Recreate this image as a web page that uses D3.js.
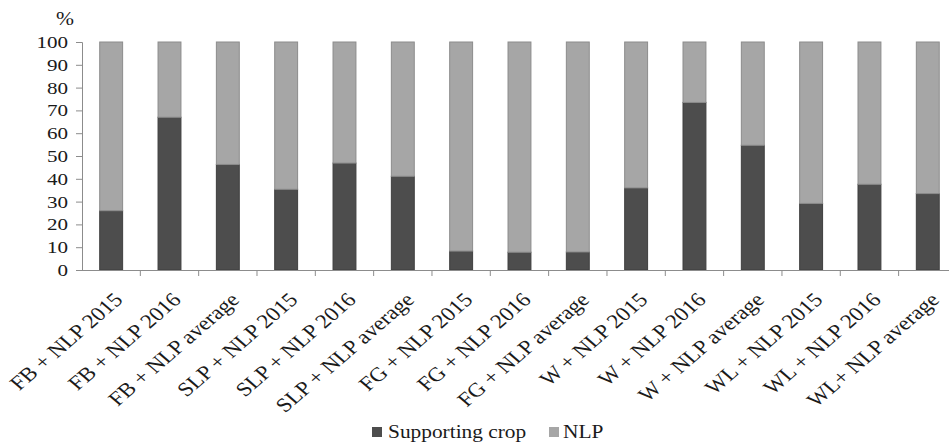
<!DOCTYPE html>
<html>
<head>
<meta charset="utf-8">
<script src="https://cdn.jsdelivr.net/npm/d3@7"></script>
<style>
  html, body { margin: 0; padding: 0; background: #fff; }
  svg { display: block; }
  svg text { font-family: "Liberation Serif", serif !important; fill: #1a1a1a; }
</style>
</head>
<body>
<svg id="chart" width="949" height="443"></svg>
<script>
const categories = [
  "FB + NLP 2015", "FB + NLP 2016", "FB + NLP average",
  "SLP + NLP 2015", "SLP + NLP 2016", "SLP + NLP average",
  "FG + NLP 2015", "FG + NLP 2016", "FG + NLP average",
  "W + NLP 2015", "W + NLP 2016", "W + NLP average",
  "WL + NLP 2015", "WL + NLP 2016", "WL+ NLP average"
];
const supportingCrop = [26, 67, 46.3, 35.4, 46.9, 41.1, 8.3, 7.8, 7.9, 36, 73.5, 54.7, 29.2, 37.6, 33.5];
const nlp = [74, 33, 53.7, 64.6, 53.1, 58.9, 91.7, 92.2, 92.1, 64, 26.5, 45.3, 70.8, 62.4, 66.5];
const seriesNames = ["Supporting crop", "NLP"];
const yTicks = [0, 10, 20, 30, 40, 50, 60, 70, 80, 90, 100];
const yUnit = "%";

const svg = d3.select("#chart");
const mLeft = 82, mTop = 42, mBottom = 270;
const step = 58.33;
const mRight = mLeft + step * categories.length;

const x = d3.scaleBand().domain(categories).range([mLeft, mRight])
  .paddingInner(0.59).paddingOuter(0.295);
const y = d3.scaleLinear().domain([0, 100]).range([mBottom, mTop]);

const colors = { "Supporting crop": "#4d4d4d", "NLP": "#a6a6a6" };
const strokes = { "Supporting crop": "#3f3f3f", "NLP": "#8c8c8c" };

const rows = categories.map((c, i) => ({ cat: c, "Supporting crop": supportingCrop[i], "NLP": nlp[i] }));
const stacked = d3.stack().keys(seriesNames)(rows);

svg.append("g").selectAll("g").data(stacked).join("g")
  .attr("fill", d => colors[d.key])
  .attr("stroke", d => strokes[d.key])
  .attr("stroke-width", 1)
  .selectAll("rect").data(d => d).join("rect")
  .attr("x", d => x(d.data.cat) + 0.5)
  .attr("y", d => y(d[1]))
  .attr("width", x.bandwidth() - 1)
  .attr("height", d => y(d[0]) - y(d[1]));

// Y axis
const axisColor = "#8c8c8c";
const yAxis = svg.append("g").attr("transform", `translate(${mLeft},0)`)
  .call(d3.axisLeft(y).tickValues(yTicks).tickSize(6).tickPadding(8));
yAxis.attr("font-family", null);
yAxis.select(".domain").attr("stroke", axisColor);
yAxis.selectAll(".tick line").attr("stroke", axisColor);
yAxis.selectAll(".tick text")
  .attr("font-size", 17).attr("fill", "#1a1a1a")
  .each(function() {
    const t = d3.select(this);
    const xx = +t.attr("x");
    t.attr("x", null).attr("transform", `translate(${xx},0) scale(1.24,1)`);
  });

// X axis line
svg.append("line").attr("x1", mLeft).attr("x2", mRight).attr("y1", mBottom + 0.5).attr("y2", mBottom + 0.5)
  .attr("stroke", axisColor);
// boundary ticks
svg.append("g").selectAll("line").data(categories).join("line")
  .attr("x1", d => x(d) + x.bandwidth() + x.step() * x.paddingInner() / 2)
  .attr("x2", d => x(d) + x.bandwidth() + x.step() * x.paddingInner() / 2)
  .attr("y1", mBottom).attr("y2", mBottom + 6)
  .attr("stroke", axisColor);

// X labels
svg.append("g").selectAll("text").data(categories).join("text")
  .attr("transform", d => `translate(${x(d) + x.bandwidth() / 2 + 7},${mBottom + 26}) scale(1.16,1) rotate(-45)`)
  .attr("text-anchor", "end")
  .attr("dy", "0.35em")
  .attr("font-size", 20)
  .text(d => d);

// % label
svg.append("text").attr("transform", "translate(65,25) scale(1.2,1)").attr("text-anchor", "middle")
  .attr("font-size", 18).text(yUnit);

// Legend
const legend = [
  { name: seriesNames[0], sx: 372, tx: 388 },
  { name: seriesNames[1], sx: 549, tx: 563 }
];
const lg = svg.append("g");
lg.selectAll("rect").data(legend).join("rect")
  .attr("x", d => d.sx).attr("y", 427).attr("width", 10).attr("height", 10)
  .attr("fill", d => colors[d.name]);
lg.selectAll("text").data(legend).join("text")
  .attr("transform", d => `translate(${d.tx},438) scale(1.2,1)`)
  .attr("font-size", 17.8)
  .text(d => d.name);
</script>
</body>
</html>
